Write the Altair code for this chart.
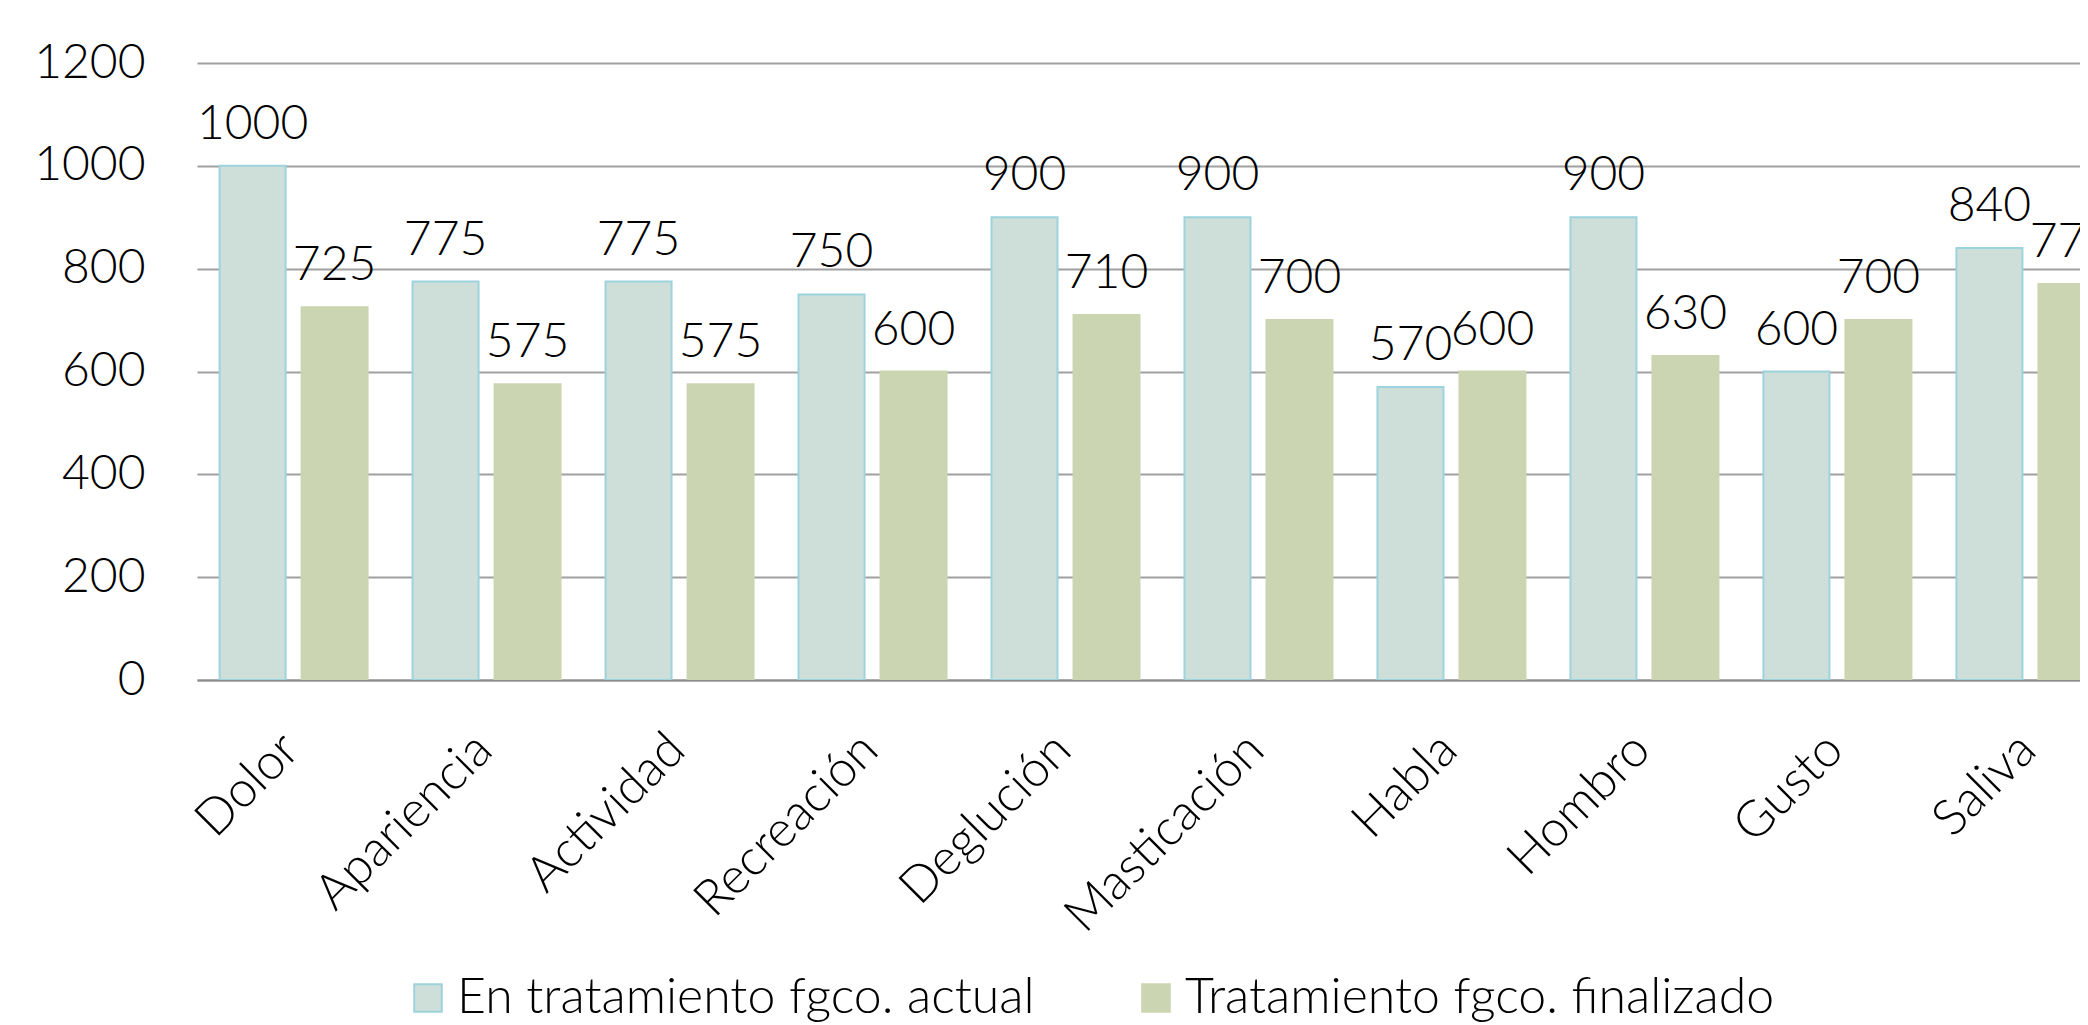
import altair as alt
import pandas as pd

categories = ["Dolor", "Apariencia", "Actividad", "Recreación", "Deglución",
              "Masticación", "Habla", "Hombro", "Gusto", "Saliva"]
series = ["En tratamiento fgco. actual", "Tratamiento fgco. finalizado"]
actual = [1000, 775, 775, 750, 900, 900, 570, 900, 600, 840]
finalizado = [725, 575, 575, 600, 710, 700, 600, 630, 700, 770]

rows = []
for c, a, f in zip(categories, actual, finalizado):
    rows.append({"cat": c, "series": series[0], "value": a})
    rows.append({"cat": c, "series": series[1], "value": f})
df = pd.DataFrame(rows)

FONT = "Lato"
fills = ["#CEDFDA", "#CCD5B2"]
strokes = ["#9CD3DC", "#CCD5B2"]

base = alt.Chart(df).encode(
    x=alt.X("cat:N", sort=categories, title=None,
            scale=alt.Scale(range=[0, 1930], paddingInner=0.233, paddingOuter=0.117),
            axis=alt.Axis(labelAngle=315, labelFontSize=50, labelFont=FONT,
                          labelFontWeight=300, labelColor="#000000", ticks=False,
                          labelPadding=44, labelOffset=-20, labelLimit=0,
                          labelOverlap=False, domainColor="#8C8C8C", domainWidth=2,
                          grid=False)),
    xOffset=alt.XOffset("series:N", sort=series,
                        scale=alt.Scale(paddingInner=0.195, paddingOuter=0)),
    y=alt.Y("value:Q", title=None,
            scale=alt.Scale(domain=[0, 1200]),
            axis=alt.Axis(values=[0, 200, 400, 600, 800, 1000, 1200], format="d",
                          labelFontSize=48, labelFont=FONT, labelFontWeight=300,
                          labelColor="#000000", ticks=False, domain=False,
                          labelPadding=52, gridColor="#A0A0A0", gridWidth=2)),
)

legend = alt.Legend(title=None, orient="none", legendX=206, legendY=910,
                    direction="horizontal", labelFontSize=50, labelFont=FONT,
                    labelFontWeight=300, labelColor="#000000", labelLimit=0,
                    symbolType="square", symbolSize=760, symbolStrokeWidth=2,
                    labelOffset=4, columnPadding=96)

bars = base.mark_bar(clip=True, strokeWidth=2).encode(
    color=alt.Color("series:N", sort=series,
                    scale=alt.Scale(domain=series, range=fills), legend=legend),
    stroke=alt.Stroke("series:N", sort=series,
                      scale=alt.Scale(domain=series, range=strokes), legend=legend),
)

labels = base.mark_text(clip=True, baseline="alphabetic", dy=-27, font=FONT,
                        fontWeight=300, fontSize=48, color="#000000").encode(
    text="value:Q"
)

chart = alt.layer(bars, labels).properties(
    width=1883, height=617,
    padding={"left": 189, "top": 55, "right": 0, "bottom": 345},
    autosize=alt.AutoSizeParams(type="none"),
).configure_view(stroke=None)

chart.save("out.html", embed_options={"renderer": "svg", "actions": False})
